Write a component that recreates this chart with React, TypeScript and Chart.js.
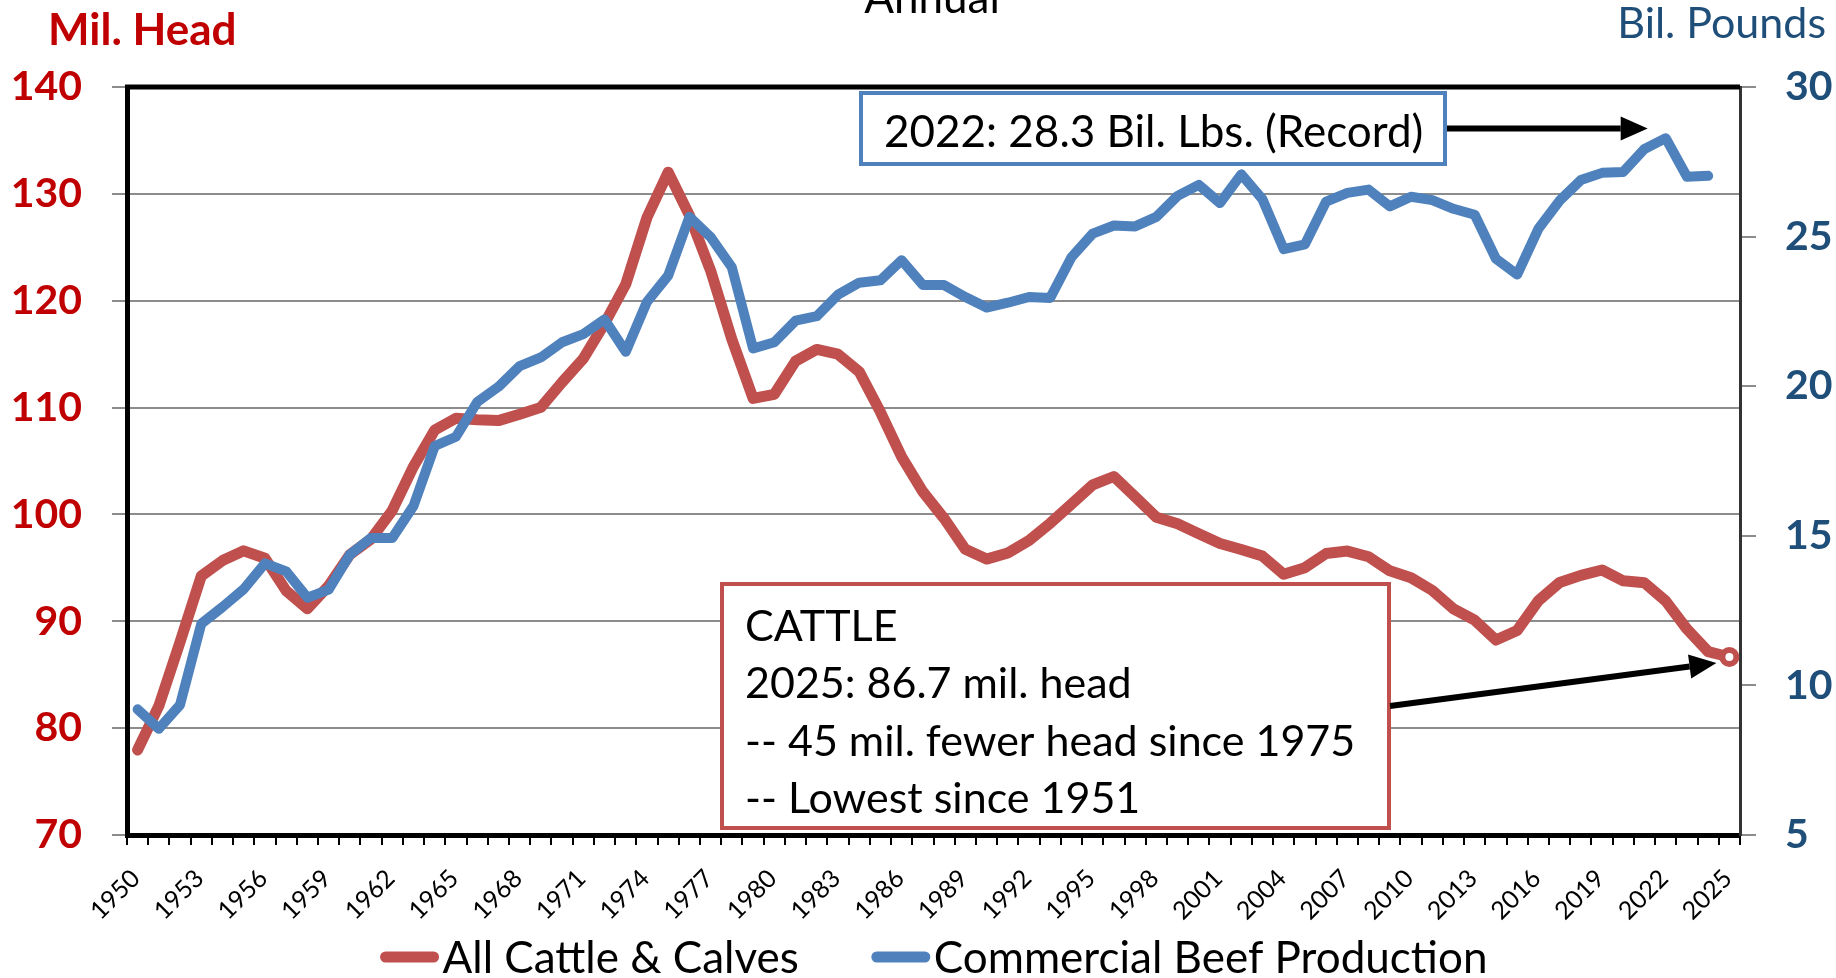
import React, { useEffect, useRef } from "react";
import { Chart, registerables } from "chart.js";

Chart.register(...registerables);

const years = [
  "1950", "1951", "1952", "1953", "1954", "1955", "1956", "1957", "1958", "1959",
  "1960", "1961", "1962", "1963", "1964", "1965", "1966", "1967", "1968", "1969",
  "1970", "1971", "1972", "1973", "1974", "1975", "1976", "1977", "1978", "1979",
  "1980", "1981", "1982", "1983", "1984", "1985", "1986", "1987", "1988", "1989",
  "1990", "1991", "1992", "1993", "1994", "1995", "1996", "1997", "1998", "1999",
  "2000", "2001", "2002", "2003", "2004", "2005", "2006", "2007", "2008", "2009",
  "2010", "2011", "2012", "2013", "2014", "2015", "2016", "2017", "2018", "2019",
  "2020", "2021", "2022", "2023", "2024", "2025",
];

// All cattle & calves, Jan 1 (million head)
const cattle = [
  77.96, 82.08, 88.07, 94.24, 95.68, 96.59, 95.9, 92.86, 91.18, 93.32,
  96.24, 97.7, 100.37, 104.49, 107.9, 109.0, 108.86, 108.78, 109.37, 110.02,
  112.37, 114.58, 117.86, 121.54, 127.79, 132.03, 127.98, 122.81, 116.38, 110.86,
  111.24, 114.35, 115.44, 115.0, 113.36, 109.58, 105.38, 102.12, 99.62, 96.74,
  95.82, 96.39, 97.56, 99.18, 100.97, 102.76, 103.55, 101.66, 99.74, 99.12,
  98.2, 97.28, 96.72, 96.1, 94.4, 95.02, 96.34, 96.57, 96.04, 94.72,
  94.08, 92.89, 91.16, 90.1, 88.24, 89.14, 91.92, 93.63, 94.3, 94.8,
  93.79, 93.6, 91.9, 89.27, 87.16, 86.66,
];

// Commercial beef production (billion pounds)
const beef = [
  9.2, 8.55, 9.35, 12.06, 12.62, 13.22, 14.08, 13.81, 12.93, 13.2,
  14.37, 14.93, 14.93, 16.0, 18.0, 18.31, 19.47, 19.98, 20.67, 20.96,
  21.47, 21.74, 22.23, 21.15, 22.82, 23.7, 25.66, 24.98, 23.97, 21.26,
  21.47, 22.19, 22.34, 23.06, 23.46, 23.54, 24.21, 23.38, 23.38, 22.98,
  22.63, 22.79, 22.98, 22.95, 24.31, 25.1, 25.37, 25.34, 25.66, 26.36,
  26.73, 26.12, 27.08, 26.25, 24.58, 24.74, 26.17, 26.46, 26.57, 26.01,
  26.33, 26.22, 25.93, 25.73, 24.26, 23.73, 25.26, 26.2, 26.89, 27.13,
  27.16, 27.93, 28.29, 27.0, 27.03, null,
];

const leftAxis = { min: 70, max: 140, step: 10 };
const rightAxis = { min: 5, max: 30, step: 5 };
const yearLabelEvery = 3;

const seriesNames = ["All Cattle & Calves", "Commercial Beef Production"];
const titleText = "Annual";
const leftTitle = "Mil. Head";
const rightTitle = "Bil. Pounds";
const cattleNote = [
  "CATTLE",
  "2025: 86.7 mil. head",
  "-- 45 mil. fewer head since 1975",
  "-- Lowest since 1951",
];
const beefNote = "2022: 28.3 Bil. Lbs. (Record)";

const RED = "#C0504D";
const BLUE = "#4F81BD";
const DARK_RED = "#C00000";
const DARK_BLUE = "#1F4E79";
const FONT = "Lato, 'Open Sans', 'DejaVu Sans', sans-serif";

function drawArrow(ctx: CanvasRenderingContext2D, x1: number, y1: number, x2: number, y2: number) {
  const ang = Math.atan2(y2 - y1, x2 - x1);
  const L = 27;
  const W = 12;
  const bx = x2 - L * Math.cos(ang);
  const by = y2 - L * Math.sin(ang);
  ctx.save();
  ctx.strokeStyle = "#000";
  ctx.fillStyle = "#000";
  ctx.lineWidth = 6;
  ctx.beginPath();
  ctx.moveTo(x1, y1);
  ctx.lineTo(bx, by);
  ctx.stroke();
  ctx.beginPath();
  ctx.moveTo(x2, y2);
  ctx.lineTo(bx + W * Math.sin(ang), by - W * Math.cos(ang));
  ctx.lineTo(bx - W * Math.sin(ang), by + W * Math.cos(ang));
  ctx.closePath();
  ctx.fill();
  ctx.restore();
}

const overlayPlugin = {
  id: "overlay",
  afterDatasetsDraw(chart: any) {
    const { ctx, chartArea, scales } = chart;
    const xs = scales.x;
    const ys = scales.y;

    // top border of plot area
    ctx.save();
    ctx.strokeStyle = "#000";
    ctx.lineWidth = 5;
    ctx.beginPath();
    ctx.moveTo(chartArea.left - 2, chartArea.top);
    ctx.lineTo(chartArea.right, chartArea.top);
    ctx.stroke();
    ctx.restore();

    // Beef note box
    ctx.save();
    ctx.fillStyle = "#fff";
    ctx.strokeStyle = BLUE;
    ctx.lineWidth = 4;
    const bx = 861, by = 93, bw = 584, bh = 71;
    ctx.fillRect(bx, by, bw, bh);
    ctx.strokeRect(bx, by, bw, bh);
    ctx.fillStyle = "#000";
    ctx.font = `44px ${FONT}`;
    ctx.textBaseline = "alphabetic";
    ctx.textAlign = "left";
    ctx.fillText(beefNote, 884, 147);
    ctx.restore();
    const i22 = years.indexOf("2022");
    drawArrow(ctx, bx + bw + 2, by + bh / 2, xs.getPixelForValue(i22) - 18, by + bh / 2);

    // Cattle note box
    ctx.save();
    ctx.fillStyle = "#fff";
    ctx.strokeStyle = RED;
    ctx.lineWidth = 4;
    const rx = 722, ry = 584, rw = 667, rh = 244;
    ctx.fillRect(rx, ry, rw, rh);
    ctx.strokeRect(rx, ry, rw, rh);
    ctx.fillStyle = "#000";
    ctx.font = `43px ${FONT}`;
    ctx.textAlign = "left";
    cattleNote.forEach((t, i) => ctx.fillText(t, 745, 641 + i * 57.3));
    ctx.restore();
    const i25 = years.indexOf("2025");
    drawArrow(ctx, rx + rw + 1, 706, xs.getPixelForValue(i25) - 13, ys.getPixelForValue(cattle[i25]) + 6);
  },
  afterDraw(chart: any) {
    const { ctx, chartArea, scales } = chart;
    const xs = scales.x;
    ctx.save();

    // rotated year labels along the category axis
    ctx.fillStyle = "#000";
    ctx.font = `25px ${FONT}`;
    ctx.textAlign = "right";
    ctx.textBaseline = "alphabetic";
    years.forEach((yr, i) => {
      if (i % yearLabelEvery !== 0) return;
      const px = xs.getPixelForValue(i);
      ctx.save();
      ctx.translate(px + 4, chartArea.bottom + 45);
      ctx.rotate(-Math.PI / 4);
      ctx.fillText(yr, 0, 0);
      ctx.restore();
    });

    // title (partially cut at the top)
    ctx.fillStyle = "#000";
    ctx.font = `44px ${FONT}`;
    ctx.textAlign = "center";
    ctx.textBaseline = "alphabetic";
    ctx.fillText(titleText, 932, 13);
    // axis titles
    ctx.fillStyle = DARK_RED;
    ctx.font = `bold 44px ${FONT}`;
    ctx.textAlign = "left";
    ctx.fillText(leftTitle, 48, 45);
    ctx.fillStyle = DARK_BLUE;
    ctx.font = `43px ${FONT}`;
    ctx.textAlign = "right";
    ctx.fillText(rightTitle, 1826, 38);

    // legend
    ctx.font = `44px ${FONT}`;
    ctx.textBaseline = "middle";
    ctx.textAlign = "left";
    const sample = 60, gapText = 3, gapItem = 72;
    const ds = chart.data.datasets;
    const widths = ds.map((d: any) => sample + gapText + ctx.measureText(d.label).width);
    const total = widths.reduce((a: number, b: number) => a + b, 0) + gapItem * (ds.length - 1);
    let x = (chartArea.left + chartArea.right) / 2 - total / 2;
    const ly = 957;
    ds.forEach((d: any, i: number) => {
      ctx.strokeStyle = d.borderColor;
      ctx.lineWidth = 11;
      ctx.lineCap = "round";
      ctx.beginPath();
      ctx.moveTo(x + 6, ly);
      ctx.lineTo(x + sample - 6, ly);
      ctx.stroke();
      ctx.fillStyle = "#000";
      ctx.fillText(d.label, x + sample + gapText, ly + 2);
      x += widths[i] + gapItem;
    });
    ctx.restore();
  },
};

export default function App() {
  const ref = useRef<HTMLCanvasElement>(null);
  useEffect(() => {
    document.body.style.margin = "0";
    const last = cattle.length - 1;
    const chart = new Chart(ref.current as HTMLCanvasElement, {
      type: "line",
      data: {
        labels: years,
        datasets: [
          {
            label: seriesNames[0],
            data: cattle,
            yAxisID: "y",
            borderColor: RED,
            backgroundColor: "#fff",
            borderWidth: 11,
            borderJoinStyle: "round",
            borderCapStyle: "round",
            tension: 0,
            order: 1,
            pointRadius: (c: any) => (c.dataIndex === last ? 7 : 0),
            pointBorderWidth: 6,
            pointBorderColor: RED,
            pointBackgroundColor: "#fff",
          },
          {
            label: seriesNames[1],
            data: beef,
            yAxisID: "y1",
            borderColor: BLUE,
            backgroundColor: BLUE,
            borderWidth: 10,
            borderJoinStyle: "round",
            borderCapStyle: "round",
            tension: 0,
            order: 0,
            pointRadius: 0,
          },
        ],
      } as any,
      options: {
        responsive: false,
        animation: false,
        layout: { padding: { top: 87, left: 0, right: 0, bottom: 0 } },
        plugins: {
          legend: { display: false },
          tooltip: { enabled: false },
          title: { display: false },
        },
        scales: {
          x: {
            type: "category",
            offset: true,
            grid: {
              offset: true,
              drawOnChartArea: false,
              drawTicks: true,
              tickLength: 10,
              color: "#000",
              lineWidth: 2,
            },
            border: { display: true, color: "#000", width: 5 },
            ticks: { display: false, autoSkip: false },
            afterFit: (s: any) => {
              s.height = 143;
            },
          },
          y: {
            position: "left",
            min: leftAxis.min,
            max: leftAxis.max,
            ticks: {
              stepSize: leftAxis.step,
              color: DARK_RED,
              padding: 30,
              font: { family: FONT, size: 41, weight: "bold" },
            },
            grid: { color: "#8c8c8c", lineWidth: 2, tickLength: 15, drawTicks: true },
            border: { display: true, color: "#000", width: 5 },
            afterFit: (s: any) => {
              s.width = 127;
            },
          },
          y1: {
            position: "right",
            min: rightAxis.min,
            max: rightAxis.max,
            ticks: {
              stepSize: rightAxis.step,
              color: DARK_BLUE,
              padding: 29,
              font: { family: FONT, size: 41, weight: "bold" },
            },
            grid: { drawOnChartArea: false, tickLength: 16, color: "#8c8c8c", lineWidth: 2 },
            border: { display: true, color: "#333", width: 3 },
            afterFit: (s: any) => {
              s.width = 96;
            },
          },
        },
      } as any,
      plugins: [overlayPlugin],
    });
    return () => chart.destroy();
  }, []);
  return (
    <div style={{ width: 1836, height: 978 }}>
      <canvas ref={ref} width={1836} height={978} style={{ display: "block" }} />
    </div>
  );
}
